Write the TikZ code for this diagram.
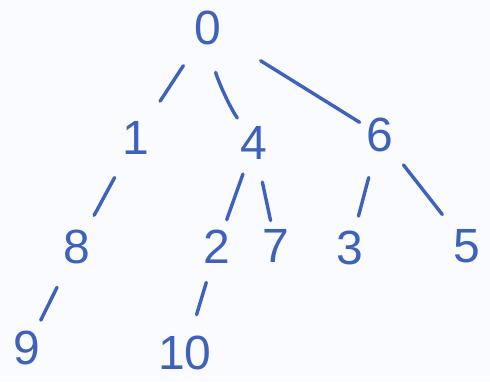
\documentclass[tikz,border=0pt]{standalone}
\usepackage{fontspec}
\setmainfont{Liberation Sans}
\definecolor{ink}{RGB}{62,98,188}
\definecolor{paper}{RGB}{250,251,255}
\begin{document}
\begin{tikzpicture}[x=1pt,y=-1pt,
  num/.style={text=ink,font=\fontsize{48}{48}\selectfont,inner sep=0pt},
  edge/.style={draw=ink,line width=3.4pt,line cap=round}]
\fill[paper] (0,0) rectangle (490,381);
\useasboundingbox (0,0) rectangle (490,381);
% digits
\node[num] (n0) at (208,28) {0};
\node[num] (n1) at (136,138) {1};
\node[num] (n4) at (254,143) {4};
\node[num] (n6) at (380,135) {6};
\node[num] (n8) at (77,247) {8};
\node[num] (n2) at (217,247) {2};
\node[num] (n7) at (276,246) {7};
\node[num] (n3) at (350,248) {3};
\node[num] (n5) at (467,246) {5};
\node[num] (n9) at (27,348) {9};
\node[num] (n10) at (185,353) {10};
% connectors, trimmed back from each digit's centre
\draw[edge,shorten <=45pt,shorten >=44pt] (n0.center) -- (n1.center);
\draw[edge,shorten <=45pt,shorten >=30pt] (n0.center) to[bend right=12] (n4.center);
\draw[edge,shorten <=62pt,shorten >=24pt] (n0.center) -- (n6.center);
\draw[edge,shorten <=45pt,shorten >=36pt] (n1.center) -- (n8.center);
\draw[edge,shorten <=33pt,shorten >=29pt] (n4.center) -- (n2.center);
\draw[edge,shorten <=40pt,shorten >=26pt] (n4.center) -- (n7.center);
\draw[edge,shorten <=44pt,shorten >=33pt] (n6.center) -- (n3.center);
\draw[edge,shorten <=38pt,shorten >=40pt] (n6.center) -- (n5.center);
\draw[edge,shorten <=45pt,shorten >=31pt] (n8.center) -- (n9.center);
\draw[edge,shorten <=37pt,shorten >=40pt] (n2.center) -- (n10.center);
\end{tikzpicture}
\end{document}
